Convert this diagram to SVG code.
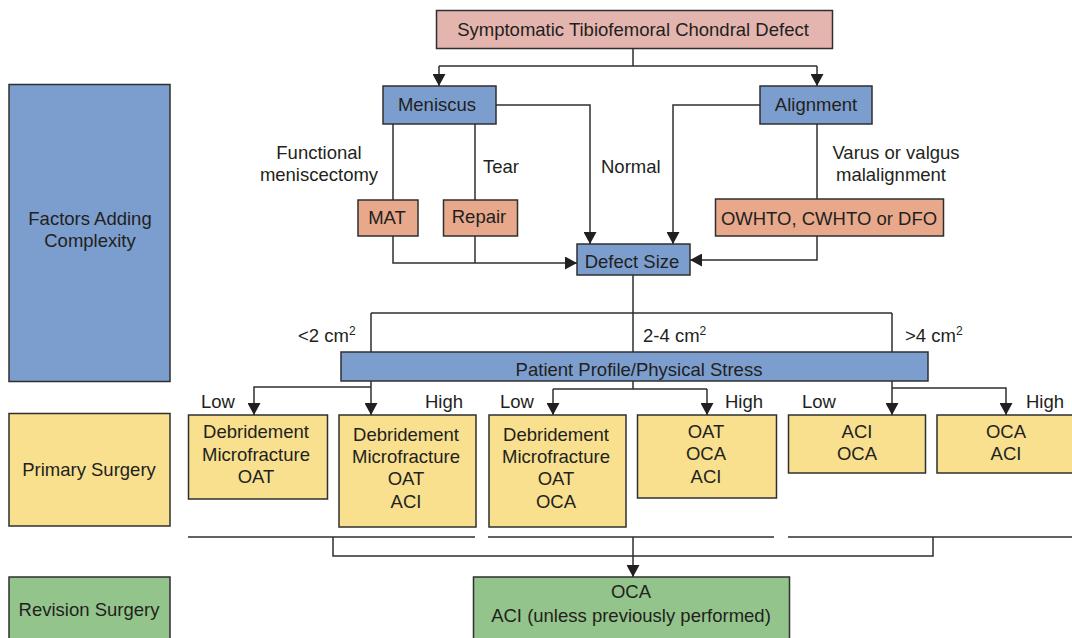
<svg xmlns="http://www.w3.org/2000/svg" width="1072" height="638" viewBox="0 0 1072 638">
<style>
text{font-family:"Liberation Sans",Arial,sans-serif;font-size:18.5px;fill:#231f20}
.c{text-anchor:middle}
.box{stroke:#2f2f2f;stroke-width:1.5}
.pink{fill:#e3b5ae}
.blue{fill:#7b9ecf}
.orange{fill:#e8a88b}
.yellow{fill:#f8e08e}
.green{fill:#93c48b}
.ln{fill:none;stroke:#2f2f2f;stroke-width:1.5}
.ar{marker-end:url(#ah)}
</style>
<defs>
<marker id="ah" markerUnits="userSpaceOnUse" markerWidth="13" markerHeight="13" refX="12" refY="6.5" orient="auto">
<path d="M0,0 L12,6.5 L0,13 z" fill="#231f20"/>
</marker>
</defs>
<rect width="1072" height="638" fill="#fff"/>

<g id="connectors">
<path class="ln" d="M633,48 V66 M439,66 H817"/>
<path class="ln ar" d="M439,66 V86"/>
<path class="ln ar" d="M817,66 V86"/>
<path class="ln ar" d="M496,105 H590 V244"/>
<path class="ln ar" d="M760,105 H673 V244"/>
<path class="ln" d="M393,124 V200 M475,124 V200"/>
<path class="ln ar" d="M393,236 V263 H577"/>
<path class="ln" d="M475,236 V263"/>
<path class="ln" d="M817,124 V199"/>
<path class="ln ar" d="M817,236 V260 H690"/>
<path class="ln" d="M633,275 V313 M371,313 H892"/>
<path class="ln" d="M371,313 V352 M633,313 V352 M892,313 V352"/>
<path class="ln ar" d="M371,381 V415"/>
<path class="ln ar" d="M371,387 H254 V415"/>
<path class="ln" d="M633,381 V389 M553,389 H707"/>
<path class="ln ar" d="M553,389 V415"/>
<path class="ln ar" d="M707,389 V415"/>
<path class="ln ar" d="M892,381 V415"/>
<path class="ln ar" d="M892,388 H1006 V415"/>
<path class="ln" d="M188,537 H475 M488,537 H774 M788,537 H1072"/>
<path class="ln" d="M333,537 V556 H933 V537"/>
<path class="ln ar" d="M633,537 V577"/>
</g>

<g id="n-title"><rect class="box pink" x="436.5" y="10.5" width="396" height="38"/><text class="c" x="633" y="36">Symptomatic Tibiofemoral Chondral Defect</text></g>
<g id="n-meniscus"><rect class="box blue" x="383" y="86" width="113" height="38"/><text class="c" x="437" y="111">Meniscus</text></g>
<g id="n-alignment"><rect class="box blue" x="760" y="86" width="112" height="38"/><text class="c" x="816" y="111">Alignment</text></g>
<g id="n-mat"><rect class="box orange" x="358" y="200" width="60" height="36"/><text class="c" x="387" y="224">MAT</text></g>
<g id="n-repair"><rect class="box orange" x="443.5" y="200" width="74" height="36"/><text class="c" x="479" y="223">Repair</text></g>
<g id="n-osteotomy"><rect class="box orange" x="715.5" y="199" width="228" height="37"/><text class="c" x="829" y="225">OWHTO, CWHTO or DFO</text></g>
<g id="n-defect"><rect class="box blue" x="577" y="244" width="113" height="31"/><text class="c" x="632" y="268">Defect Size</text></g>
<g id="n-profile"><rect class="box blue" x="341" y="352" width="587" height="29"/><text class="c" x="639" y="376">Patient Profile/Physical Stress</text></g>

<g id="labels">
<text class="c" x="319" y="159">Functional</text>
<text class="c" x="319" y="181">meniscectomy</text>
<text x="483" y="173">Tear</text>
<text x="601" y="173">Normal</text>
<text class="c" x="896" y="159">Varus or valgus</text>
<text class="c" x="891" y="181">malalignment</text>
<text x="298" y="342">&lt;2 cm<tspan font-size="12" dy="-7">2</tspan></text>
<text x="643" y="342">2-4 cm<tspan font-size="12" dy="-7">2</tspan></text>
<text x="905" y="342">&gt;4 cm<tspan font-size="12" dy="-7">2</tspan></text>
<text x="201" y="408">Low</text>
<text x="425" y="408">High</text>
<text x="500" y="408">Low</text>
<text x="725" y="408">High</text>
<text x="802" y="408">Low</text>
<text x="1026" y="408">High</text>
</g>

<g id="n-factors"><rect class="box blue" x="9" y="84.5" width="161" height="297"/><text class="c" x="90" y="225">Factors Adding</text><text class="c" x="90" y="247">Complexity</text></g>
<g id="n-primary"><rect class="box yellow" x="9" y="413.5" width="161" height="112.5"/><text class="c" x="89" y="476">Primary Surgery</text></g>
<g id="n-revision-label"><rect class="box green" x="9" y="577" width="161" height="70"/><text class="c" x="89" y="616">Revision Surgery</text></g>

<g id="n-p1"><rect class="box yellow" x="188.5" y="415" width="139" height="84"/><text class="c" x="256" y="438">Debridement</text><text class="c" x="256" y="461">Microfracture</text><text class="c" x="256" y="483">OAT</text></g>
<g id="n-p2"><rect class="box yellow" x="339" y="415" width="137" height="112"/><text class="c" x="406" y="441">Debridement</text><text class="c" x="406" y="463">Microfracture</text><text class="c" x="406" y="485">OAT</text><text class="c" x="406" y="508">ACI</text></g>
<g id="n-p3"><rect class="box yellow" x="489" y="415" width="137" height="112"/><text class="c" x="556" y="441">Debridement</text><text class="c" x="556" y="463">Microfracture</text><text class="c" x="556" y="485">OAT</text><text class="c" x="556" y="508">OCA</text></g>
<g id="n-p4"><rect class="box yellow" x="637.5" y="415" width="139" height="83"/><text class="c" x="706" y="438">OAT</text><text class="c" x="706" y="460">OCA</text><text class="c" x="706" y="483">ACI</text></g>
<g id="n-p5"><rect class="box yellow" x="788.5" y="415" width="137" height="58"/><text class="c" x="857" y="438">ACI</text><text class="c" x="857" y="460">OCA</text></g>
<g id="n-p6"><rect class="box yellow" x="937" y="415" width="140" height="58"/><text class="c" x="1006" y="438">OCA</text><text class="c" x="1006" y="460">ACI</text></g>
<g id="n-revision"><rect class="box green" x="473.5" y="577" width="316" height="70"/><text class="c" x="631" y="598">OCA</text><text class="c" x="631" y="622">ACI (unless previously performed)</text></g>
</svg>
